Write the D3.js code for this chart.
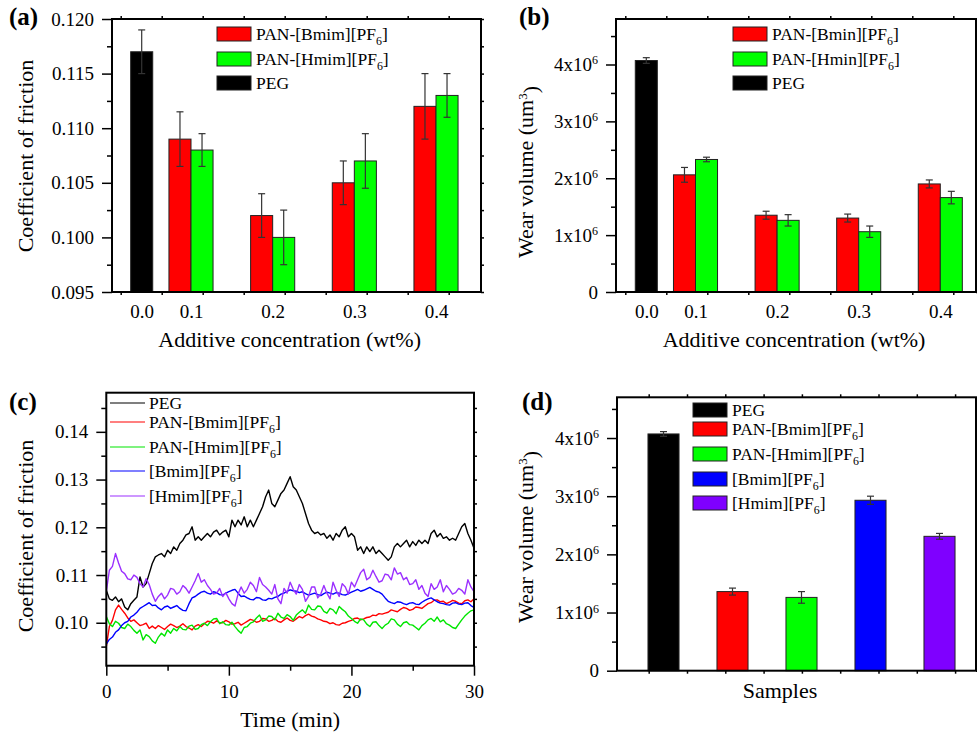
<!DOCTYPE html>
<html>
<head>
<meta charset="utf-8">
<script src="https://cdn.jsdelivr.net/npm/d3@7"></script>
<style>
body { margin: 0; background: #fff; }
</style>
</head>
<body>
<div id="chart"></div>
<script>
// ---- data ----
var concLabels = ["0.0", "0.1", "0.2", "0.3", "0.4"];
var concValues = [0, 0.1, 0.2, 0.3, 0.4];
var ilConc = [0.1, 0.2, 0.3, 0.4];

// (a) coefficient of friction
var cofPeg = 0.117, cofPegErr = 0.002;
var cofBmim = [0.109, 0.102, 0.105, 0.112];
var cofBmimErr = [0.0025, 0.002, 0.002, 0.003];
var cofHmim = [0.108, 0.100, 0.107, 0.113];
var cofHmimErr = [0.0015, 0.0025, 0.0025, 0.002];

// (b) wear volume
var wearPeg = 4.07e6, wearPegErr = 0.05e6;
var wearBmin = [2.06e6, 1.35e6, 1.30e6, 1.90e6];
var wearBminErr = [0.13e6, 0.07e6, 0.07e6, 0.07e6];
var wearHmin = [2.33e6, 1.26e6, 1.06e6, 1.66e6];
var wearHminErr = [0.04e6, 0.10e6, 0.10e6, 0.11e6];

// (c) friction vs time, one reading every 0.25 min
var timeMin = d3.range(121).map(function(i) { return i * 0.25; });
var cofTimePeg = [
  0.1068,0.1050,0.1047,0.1054,0.1044,0.1050,0.1033,0.1027,0.1040,0.1047,
  0.1054,0.1096,0.1075,0.1082,0.1103,0.1124,0.1138,0.1142,0.1145,0.1138,
  0.1152,0.1145,0.1159,0.1152,0.1166,0.1173,0.1184,0.1187,0.1201,0.1173,
  0.1180,0.1173,0.1180,0.1187,0.1180,0.1190,0.1194,0.1184,0.1190,0.1194,
  0.1180,0.1215,0.1201,0.1215,0.1205,0.1222,0.1201,0.1215,0.1201,0.1215,
  0.1229,0.1243,0.1264,0.1278,0.1250,0.1243,0.1257,0.1271,0.1278,0.1292,
  0.1306,0.1285,0.1278,0.1264,0.1250,0.1229,0.1208,0.1194,0.1187,0.1190,
  0.1184,0.1187,0.1177,0.1184,0.1173,0.1187,0.1180,0.1194,0.1201,0.1180,
  0.1187,0.1180,0.1152,0.1159,0.1145,0.1159,0.1149,0.1159,0.1145,0.1152,
  0.1145,0.1138,0.1131,0.1138,0.1159,0.1166,0.1159,0.1166,0.1173,0.1159,
  0.1170,0.1162,0.1173,0.1166,0.1173,0.1166,0.1187,0.1194,0.1180,0.1187,
  0.1177,0.1180,0.1173,0.1177,0.1173,0.1187,0.1201,0.1208,0.1187,0.1173,
  0.1156];
var cofTimeBmim = [
  0.0950,0.0992,0.1005,0.1027,0.1037,0.1028,0.1020,0.1010,0.1003,0.1006,
  0.1000,0.0994,0.0996,0.0999,0.0988,0.0993,0.0988,0.0994,0.0990,0.0986,
  0.0992,0.0997,0.0994,0.0990,0.0993,0.0998,0.0992,0.0989,0.0985,0.0993,
  0.0996,0.0992,0.0998,0.1003,0.1002,0.0999,0.1004,0.1000,0.1000,0.1005,
  0.1002,0.0997,0.0998,0.1001,0.0995,0.0999,0.1003,0.1007,0.1005,0.1001,
  0.1003,0.1009,0.1008,0.1003,0.1005,0.1009,0.1003,0.1001,0.1006,0.1010,
  0.1005,0.1003,0.1008,0.1013,0.1010,0.1015,0.1018,0.1014,0.1012,0.1008,
  0.1006,0.1003,0.1002,0.0998,0.1000,0.0996,0.0995,0.0999,0.1000,0.1003,
  0.1005,0.1009,0.1010,0.1006,0.1008,0.1011,0.1012,0.1016,0.1015,0.1019,
  0.1018,0.1020,0.1022,0.1027,0.1025,0.1023,0.1028,0.1032,0.1030,0.1026,
  0.1028,0.1033,0.1032,0.1030,0.1035,0.1040,0.1042,0.1047,0.1048,0.1044,
  0.1045,0.1040,0.1043,0.1047,0.1045,0.1041,0.1040,0.1046,0.1048,0.1044,
  0.1050];
var cofTimeHmim = [
  0.1013,0.0998,0.0992,0.1003,0.0999,0.0990,0.0988,0.0997,0.0992,0.0984,
  0.0978,0.0985,0.0964,0.0975,0.0971,0.0962,0.0957,0.0970,0.0978,0.0972,
  0.0985,0.0978,0.0988,0.0983,0.0992,0.0986,0.0985,0.0993,0.0995,0.0986,
  0.0988,0.0996,0.0999,0.0994,0.1002,0.1008,0.1009,0.0998,0.1002,0.0996,
  0.0995,0.1001,0.0992,0.0984,0.0978,0.0990,0.0992,0.0999,0.1002,0.1010,
  0.1016,0.1003,0.1006,0.1014,0.1013,0.1006,0.1020,0.1012,0.1009,0.1017,
  0.1013,0.1005,0.1016,0.1022,0.1027,0.1020,0.1037,0.1028,0.1027,0.1035,
  0.1034,0.1024,0.1020,0.1030,0.1027,0.1019,0.1034,0.1028,0.1023,0.1014,
  0.1009,0.1003,0.0999,0.1008,0.1006,0.0997,0.0992,0.1001,0.1002,0.0994,
  0.0988,0.0995,0.0999,0.1008,0.1006,0.0997,0.0992,0.1000,0.1002,0.0996,
  0.0995,0.0990,0.0985,0.0994,0.0999,0.1006,0.1009,0.1003,0.1012,0.1002,
  0.1006,0.0998,0.0995,0.0990,0.0988,0.0997,0.1006,0.1014,0.1020,0.1025,
  0.1027];
var cofTimeIlB = [
  0.0955,0.0965,0.0970,0.0980,0.0985,0.0994,0.1000,0.1003,0.1012,0.1016,
  0.1022,0.1030,0.1034,0.1038,0.1042,0.1036,0.1037,0.1031,0.1027,0.1033,
  0.1035,0.1030,0.1033,0.1036,0.1030,0.1026,0.1025,0.1040,0.1052,0.1055,
  0.1060,0.1064,0.1066,0.1062,0.1060,0.1065,0.1063,0.1059,0.1058,0.1062,
  0.1065,0.1068,0.1070,0.1062,0.1055,0.1056,0.1052,0.1049,0.1048,0.1053,
  0.1052,0.1048,0.1047,0.1051,0.1050,0.1053,0.1055,0.1060,0.1062,0.1066,
  0.1069,0.1067,0.1066,0.1063,0.1065,0.1061,0.1058,0.1060,0.1062,0.1059,
  0.1057,0.1061,0.1064,0.1062,0.1060,0.1063,0.1062,0.1059,0.1058,0.1061,
  0.1064,0.1067,0.1070,0.1066,0.1068,0.1071,0.1074,0.1070,0.1066,0.1064,
  0.1060,0.1052,0.1045,0.1042,0.1040,0.1044,0.1043,0.1040,0.1038,0.1041,
  0.1042,0.1039,0.1038,0.1043,0.1047,0.1050,0.1052,0.1048,0.1044,0.1041,
  0.1040,0.1038,0.1037,0.1041,0.1042,0.1039,0.1038,0.1041,0.1042,0.1036,
  0.1032];
var cofTimeIlH = [
  0.1065,0.1110,0.1118,0.1145,0.1125,0.1108,0.1103,0.1092,0.1090,0.1100,
  0.1095,0.1082,0.1075,0.1092,0.1080,0.1060,0.1045,0.1055,0.1062,0.1050,
  0.1058,0.1072,0.1070,0.1060,0.1065,0.1078,0.1072,0.1062,0.1075,0.1088,
  0.1103,0.1085,0.1090,0.1078,0.1070,0.1060,0.1062,0.1072,0.1055,0.1063,
  0.1050,0.1040,0.1035,0.1060,0.1075,0.1062,0.1070,0.1085,0.1078,0.1065,
  0.1095,0.1080,0.1075,0.1068,0.1060,0.1080,0.1050,0.1040,0.1072,0.1062,
  0.1085,0.1070,0.1060,0.1080,0.1070,0.1045,0.1055,0.1075,0.1075,0.1052,
  0.1060,0.1078,0.1062,0.1050,0.1085,0.1068,0.1055,0.1082,0.1075,0.1060,
  0.1085,0.1075,0.1090,0.1105,0.1112,0.1090,0.1095,0.1110,0.1097,0.1085,
  0.1088,0.1102,0.1100,0.1090,0.1115,0.1102,0.1105,0.1090,0.1095,0.1080,
  0.1082,0.1090,0.1070,0.1078,0.1062,0.1055,0.1082,0.1070,0.1075,0.1090,
  0.1065,0.1078,0.1070,0.1060,0.1063,0.1072,0.1068,0.1060,0.1090,0.1075,
  0.1065];

// (d) wear volume by sample
var samples = ["PEG", "PAN-[Bmim][PF6]", "PAN-[Hmim][PF6]", "[Bmim][PF6]", "[Hmim][PF6]"];
var wearSample = [4.07e6, 1.36e6, 1.26e6, 2.93e6, 2.31e6];
var wearSampleErr = [0.04e6, 0.06e6, 0.10e6, 0.07e6, 0.05e6];

// ---- drawing ----
var W = 977, H = 734;
var FONT = "'Liberation Serif', Tinos, 'Times New Roman', Times, serif";
var svg = d3.select("#chart").append("svg").attr("width", W).attr("height", H)
  .attr("font-family", FONT);

var cRed = "#ff0000", cGreen = "#00ff00", cBlack = "#000000", cBlue = "#0000ff", cViolet = "#7f00ff";
var lineColors = ["#000000", "#ff0000", "#00e600", "#0000ff", "#9b30ff"];
var barColors = [cBlack, cRed, cGreen, cBlue, cViolet];

function styleAxis(g, size) {
  g.attr("font-family", FONT).attr("font-size", size);
  g.select(".domain").remove();
  g.selectAll(".tick line").attr("stroke", "#000").attr("stroke-width", 1.5);
  g.selectAll(".tick text").attr("fill", "#000");
}

function frame(b) {
  svg.append("rect").attr("x", b.l).attr("y", b.t)
    .attr("width", b.r - b.l).attr("height", b.b - b.t)
    .attr("fill", "none").attr("stroke", "#000").attr("stroke-width", 2);
}

// small unlabelled ticks along the top and bottom edges of a bar panel
function edgeTicks(b, first, step, count) {
  var s = d3.scaleLinear().domain([0, 1]).range([first, first + step]);
  var vals = d3.range(count);
  var gb = svg.append("g").attr("transform", "translate(0," + b.b + ")")
    .call(d3.axisBottom(s).tickValues(vals).tickSize(3).tickFormat(""));
  styleAxis(gb, 10);
  var gt = svg.append("g").attr("transform", "translate(0," + b.t + ")")
    .call(d3.axisTop(s).tickValues(vals).tickSize(3).tickFormat(""));
  styleAxis(gt, 10);
}

// text with PF6 -> PF subscript 6
function richLabel(t, s, fs) {
  var parts = s.split("PF6");
  t.append("tspan").text(parts[0] + (parts.length > 1 ? "PF" : ""));
  if (parts.length > 1) {
    t.append("tspan").attr("dy", 5).attr("font-size", fs * 0.68).text("6");
    t.append("tspan").attr("dy", -5).text(parts[1]);
  }
}

function powLabel(sel) {
  sel.each(function(d) {
    var t = d3.select(this);
    if (d === 0) { t.text("0"); return; }
    t.text("");
    t.append("tspan").text(d3.format("d")(d / 1e6) + "x10");
    t.append("tspan").attr("dy", "-0.55em").attr("font-size", 12).text("6");
  });
}

function errBar(x, y1, y2, cap) {
  var g = svg.append("g").attr("stroke", "#333").attr("stroke-width", 1.2);
  g.append("line").attr("x1", x).attr("x2", x).attr("y1", y1).attr("y2", y2);
  g.append("line").attr("x1", x - cap).attr("x2", x + cap).attr("y1", y1).attr("y2", y1);
  g.append("line").attr("x1", x - cap).attr("x2", x + cap).attr("y1", y2).attr("y2", y2);
}

function bar(x, w, y, y0, color) {
  svg.append("rect").attr("x", x).attr("y", y).attr("width", w).attr("height", y0 - y)
    .attr("fill", color).attr("stroke", "#222").attr("stroke-width", 1);
}

function panelLabel(x, y, s) {
  svg.append("text").attr("x", x).attr("y", y).attr("font-size", 25)
    .attr("font-weight", "bold").text(s);
}

function yTitle(x, y, s, sup) {
  var t = svg.append("text").attr("transform", "translate(" + x + "," + y + ") rotate(-90)")
    .attr("text-anchor", "middle").attr("font-size", 22).text(s);
  if (sup) {
    t.append("tspan").attr("dy", "-0.5em").attr("font-size", 13).text(sup);
    t.append("tspan").attr("dy", "0.5em").text(")");
  }
}

function xTitle(x, y, s) {
  svg.append("text").attr("x", x).attr("y", y).attr("text-anchor", "middle")
    .attr("font-size", 22).text(s);
}

function swatchLegend(x, rowsY, colors, labels) {
  rowsY.forEach(function(y, i) {
    svg.append("rect").attr("x", x).attr("y", y - 7).attr("width", 34).attr("height", 14)
      .attr("fill", colors[i]).attr("stroke", "#222").attr("stroke-width", 1);
    var t = svg.append("text").attr("x", x + 39).attr("y", y + 6).attr("font-size", 17.5);
    richLabel(t, labels[i], 17.5);
  });
}

function yAxes(b, y, major, minor, fmt) {
  var gl = svg.append("g").attr("transform", "translate(" + b.l + ",0)")
    .call(d3.axisLeft(y).tickValues(major).tickSize(10).tickPadding(8).tickFormat(fmt));
  styleAxis(gl, 19);
  var gm = svg.append("g").attr("transform", "translate(" + b.l + ",0)")
    .call(d3.axisLeft(y).tickValues(minor).tickSize(5).tickFormat(""));
  styleAxis(gm, 19);
  var gr = svg.append("g").attr("transform", "translate(" + b.r + ",0)")
    .call(d3.axisRight(y).tickValues(major.concat(minor)).tickSize(3).tickFormat(""));
  styleAxis(gr, 19);
  return gl;
}

// ===== (a) =====
var bA = { l: 112, r: 481, t: 19, b: 292 };
var xA = d3.scaleLinear().domain([0, 0.1, 0.4]).range([141.7, 191, 436]);
var yA = d3.scaleLinear().domain([0.095, 0.120]).range([bA.b, bA.t]);
var bwA = (xA(0.2) - xA(0.1)) * 0.27;

bar(xA(0) - bwA / 2, bwA, yA(cofPeg), yA.range()[0], cBlack);
errBar(xA(0), yA(cofPeg + cofPegErr), yA(cofPeg - cofPegErr), 3.5);
ilConc.forEach(function(c, i) {
  bar(xA(c) - bwA, bwA, yA(cofBmim[i]), yA.range()[0], cRed);
  bar(xA(c), bwA, yA(cofHmim[i]), yA.range()[0], cGreen);
  errBar(xA(c) - bwA / 2, yA(cofBmim[i] + cofBmimErr[i]), yA(cofBmim[i] - cofBmimErr[i]), 3.5);
  errBar(xA(c) + bwA / 2, yA(cofHmim[i] + cofHmimErr[i]), yA(cofHmim[i] - cofHmimErr[i]), 3.5);
});
frame(bA);
edgeTicks(bA, bA.l + 8.7, 41, 9);
yAxes(bA, yA, d3.range(0.095, 0.1201, 0.005), d3.range(0.0975, 0.12, 0.005), d3.format(".3f"));
var gxA = svg.append("g").attr("transform", "translate(0," + bA.b + ")")
  .call(d3.axisBottom(xA).tickValues(concValues).tickSize(0).tickPadding(13)
    .tickFormat(function(d, i) { return concLabels[i]; }));
styleAxis(gxA, 19);
swatchLegend(217, [34, 59, 83], [cRed, cGreen, cBlack],
  ["PAN-[Bmim][PF6]", "PAN-[Hmim][PF6]", "PEG"]);
panelLabel(9, 25, "(a)");
yTitle(33, 156, "Coefficient of friction");
xTitle(xA(0.2) + 17, 347, "Additive concentration (wt%)");

// ===== (b) =====
var bB = { l: 616, r: 976, t: 19, b: 292 };
var xB = d3.scaleLinear().domain([0, 0.1, 0.4]).range([646.3, 695.5, 940.3]);
var yB = d3.scaleLinear().domain([0, 4.8e6]).range([bB.b, bB.t]);
var bwB = (xB(0.2) - xB(0.1)) * 0.27;

bar(xB(0) - bwB / 2, bwB, yB(wearPeg), yB(0), cBlack);
errBar(xB(0), yB(wearPeg + wearPegErr), yB(wearPeg - wearPegErr), 3.5);
ilConc.forEach(function(c, i) {
  bar(xB(c) - bwB, bwB, yB(wearBmin[i]), yB(0), cRed);
  bar(xB(c), bwB, yB(wearHmin[i]), yB(0), cGreen);
  errBar(xB(c) - bwB / 2, yB(wearBmin[i] + wearBminErr[i]), yB(wearBmin[i] - wearBminErr[i]), 3.5);
  errBar(xB(c) + bwB / 2, yB(wearHmin[i] + wearHminErr[i]), yB(wearHmin[i] - wearHminErr[i]), 3.5);
});
frame(bB);
edgeTicks(bB, bB.l + 9.3, 41, 9);
var glB = yAxes(bB, yB, d3.range(0, 4.01e6, 1e6), d3.range(0.5e6, 4.7e6, 1e6), d3.format("d"));
glB.selectAll(".tick text").call(powLabel);
var gxB = svg.append("g").attr("transform", "translate(0," + bB.b + ")")
  .call(d3.axisBottom(xB).tickValues(concValues).tickSize(0).tickPadding(13)
    .tickFormat(function(d, i) { return concLabels[i]; }));
styleAxis(gxB, 19);
swatchLegend(733, [34, 59, 83], [cRed, cGreen, cBlack],
  ["PAN-[Bmin][PF6]", "PAN-[Hmin][PF6]", "PEG"]);
panelLabel(519, 25, "(b)");
yTitle(533, 172, "Wear volume (um", "3");
xTitle(xB(0.2) + 17, 347, "Additive concentration (wt%)");

// ===== (c) =====
var bC = { l: 106.3, r: 474, t: 392.7, b: 665.7 };
var xC = d3.scaleLinear().domain([0, 30]).range([bC.l, bC.r]);
var yC = d3.scaleLinear().domain([0.091, 0.1482]).range([bC.b, bC.t]);

svg.append("clipPath").attr("id", "clipC").append("rect")
  .attr("x", bC.l).attr("y", bC.t).attr("width", bC.r - bC.l).attr("height", bC.b - bC.t);
var seriesC = [cofTimePeg, cofTimeBmim, cofTimeHmim, cofTimeIlB, cofTimeIlH];
var namesC = ["PEG", "PAN-[Bmim][PF6]", "PAN-[Hmim][PF6]", "[Bmim][PF6]", "[Hmim][PF6]"];
var lineC = d3.line()
  .x(function(d, i) { return xC(timeMin[i]); })
  .y(function(d) { return yC(d); });
var gLines = svg.append("g").attr("clip-path", "url(#clipC)");
seriesC.forEach(function(s, k) {
  gLines.append("path").datum(s).attr("d", lineC).attr("fill", "none")
    .attr("stroke", lineColors[k]).attr("stroke-width", 1.4).attr("stroke-linejoin", "round");
});
frame(bC);
yAxes(bC, yC, d3.range(0.10, 0.1401, 0.01), d3.range(0.095, 0.146, 0.01), d3.format(".2f"));
var gxC = svg.append("g").attr("transform", "translate(0," + bC.b + ")")
  .call(d3.axisBottom(xC).tickValues([0, 10, 20, 30]).tickSize(10).tickPadding(9).tickFormat(d3.format("d")));
styleAxis(gxC, 19);
var gxCm = svg.append("g").attr("transform", "translate(0," + bC.b + ")")
  .call(d3.axisBottom(xC).tickValues([5, 15, 25]).tickSize(5).tickFormat(""));
styleAxis(gxCm, 19);
[403, 422, 447, 471, 496].forEach(function(y, i) {
  svg.append("line").attr("x1", 110).attr("x2", 145).attr("y1", y).attr("y2", y)
    .attr("stroke", lineColors[i]).attr("stroke-width", 1.2);
  var t = svg.append("text").attr("x", 149).attr("y", y + 6).attr("font-size", 17.5);
  richLabel(t, namesC[i], 17.5);
});
panelLabel(9, 410, "(c)");
yTitle(33, 536, "Coefficient of friction");
xTitle((bC.l + bC.r) / 2, 727, "Time (min)");

// ===== (d) =====
var bD = { l: 617, r: 976, t: 397.3, b: 670.7 };
var xD = d3.scaleBand().domain(samples).range([629, 974]).paddingInner(0.55).paddingOuter(0.275);
var yD = d3.scaleLinear().domain([0, 4.7e6]).range([bD.b, bD.t]);
samples.forEach(function(s, i) {
  bar(xD(s), xD.bandwidth(), yD(wearSample[i]), yD(0), barColors[i]);
  var cx = xD(s) + xD.bandwidth() / 2;
  errBar(cx, yD(wearSample[i] + wearSampleErr[i]), yD(wearSample[i] - wearSampleErr[i]), 3.5);
});
frame(bD);
edgeTicks(bD, bD.l + 31.7, 38.3, 9);
var glD = yAxes(bD, yD, d3.range(0, 4.01e6, 1e6), d3.range(0.5e6, 4.6e6, 1e6), d3.format("d"));
glD.selectAll(".tick text").call(powLabel);
swatchLegend(693, [410, 429, 454, 479, 503], barColors, samples);
panelLabel(522, 410, "(d)");
yTitle(533, 537, "Wear volume (um", "3");
xTitle(780, 698, "Samples");
</script>
</body>
</html>
